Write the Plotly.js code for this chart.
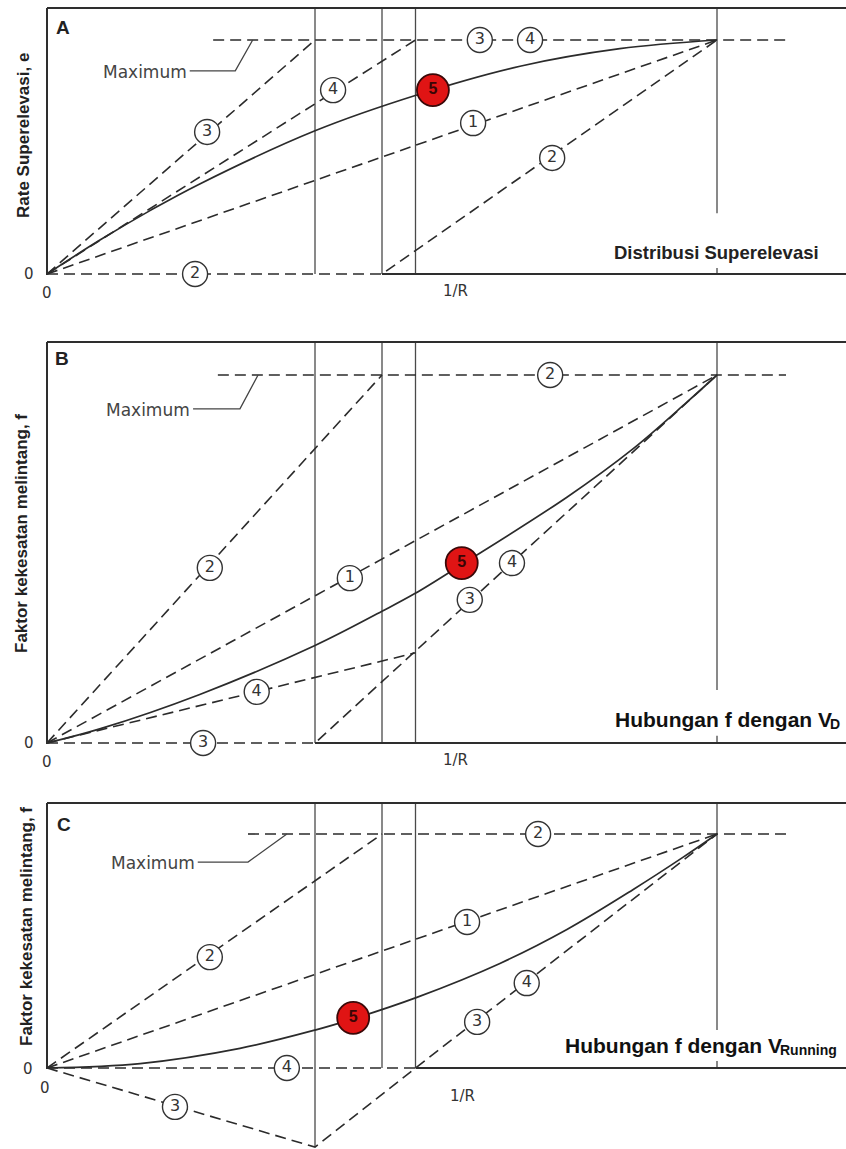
<!DOCTYPE html>
<html><head><meta charset="utf-8">
<script src="https://cdn.plot.ly/plotly-3.0.1.min.js"></script>
<style>html,body{margin:0;padding:0;background:#fff;}#chart{width:846px;height:1149px;}</style>
</head><body><div id="chart"></div>
<script>
// ---------------- DATA (x = 1/R relative to max, y = relative to maximum) ----------------
// Panel A : superelevation distribution (e)
const xA1 = [0, 1],            yA1 = [0, 1];
const xA2 = [0, 0.5, 1],       yA2 = [0, 0, 1];
const xA3 = [0, 0.4],          yA3 = [0, 1];
const xA4 = [0, 0.55],         yA4 = [0, 1];
const xA5 = [0, 0.079, 0.155, 0.228, 0.4, 0.552, 0.706, 0.855, 1];
const yA5 = [0, 0.145, 0.273, 0.385, 0.612, 0.765, 0.888, 0.963, 1];
const maxXA = [0.248, 1.103];
const leadXA = [0.213, 0.281, 0.307], leadYA = [0.868, 0.868, 1.0];
const labXA = [0.239, 0.427, 0.221, 0.646, 0.721, 0.636, 0.754];
const labYA = [0.607, 0.786, 0, 1, 1, 0.645, 0.496];
const labTA = ['3', '4', '2', '3', '4', '1', '2'];
const redXA = [0.576], redYA = [0.786];
const vertXA = [0.4, 0.5, 0.55, 1.0], vertLowA = [0, 0, 0, 0.26], stubA = [0, 0.026];

// Panel B : side friction f vs design speed V_D
const xB1 = [0, 1],            yB1 = [0, 1];
const xB2 = [0, 0.5],          yB2 = [0, 1];
const xB3 = [0, 0.4, 1],       yB3 = [0, 0, 1];
const xB4 = [0, 0.55],         yB4 = [0, 0.245];
const xB5 = [0, 0.08, 0.228, 0.4, 0.5, 0.549, 0.619, 0.776, 0.875, 0.955, 1];
const yB5 = [0, 0.039, 0.132, 0.265, 0.358, 0.406, 0.485, 0.668, 0.80, 0.926, 1];
const maxXB = [0.255, 1.103];
const leadXB = [0.218, 0.288, 0.315], leadYB = [0.908, 0.908, 1.0];
const labXB = [0.243, 0.452, 0.313, 0.233, 0.751, 0.631, 0.694];
const labYB = [0.476, 0.448, 0.139, 0, 1, 0.389, 0.489];
const labTB = ['2', '1', '4', '3', '2', '3', '4'];
const redXB = [0.619], redYB = [0.489];
const vertXB = [0.4, 0.5, 0.55, 1.0], vertLowB = [0, 0, 0, 0.144], stubB = [0, 0.02];

// Panel C : side friction f vs running speed
const xC1 = [0, 1],              yC1 = [0, 1];
const xC2 = [0, 0.5],            yC2 = [0, 1];
const xC3 = [0, 0.4, 0.55, 1],   yC3 = [0, -0.338, 0, 1];
const xC4 = [0, 0.55],           yC4 = [0, 0];
const xC5 = [0, 0.139, 0.288, 0.4, 0.457, 0.552, 0.676, 0.776, 0.875, 0.949, 1];
const yC5 = [0, 0.019, 0.084, 0.162, 0.21, 0.302, 0.447, 0.592, 0.763, 0.90, 1];
const maxXC = [0.30, 1.103];
const leadXC = [0.225, 0.30, 0.358], leadYC = [0.880, 0.880, 1.0];
const labXC = [0.243, 0.358, 0.191, 0.627, 0.716, 0.642, 0.733];
const labYC = [0.474, 0, -0.166, 0.624, 0.363, 0.197, 1];
const labTC = ['2', '4', '3', '1', '4', '3', '2'];
const redXC = [0.457], redYC = [0.214];
const vertXC = [0.4, 0.5, 0.55, 1.0], vertLowC = [-0.338, 0, 0, 0.162], stubC = [0, 0.03];

// ---------------- LAYOUT GEOMETRY ----------------
const W = 846, H = 1149;
const X0PX = 47, XUNIT = 670;
const pxX = v => v / W;
const pxY = v => 1 - v / H;
const geo = {
  A: {top: 8,   zero: 274,  unit: 234, bottom: 278},
  B: {top: 342, zero: 743,  unit: 368, bottom: 747},
  C: {top: 803, zero: 1068, unit: 234, bottom: 1149}
};
function yTop(g) { return (g.zero - g.top) / g.unit; }
function yBot(g) { return (g.zero - g.bottom) / g.unit; }

const INK = '#2b2b2b';
const traces = [];
function line(x, y, xa, ya, opt) {
  traces.push(Object.assign({type: 'scatter', mode: 'lines', x: x, y: y, xaxis: xa, yaxis: ya,
    hoverinfo: 'skip', showlegend: false}, opt));
}
function dashed(x, y, xa, ya) { line(x, y, xa, ya, {line: {color: INK, width: 1.6, dash: '11px,6px'}}); }
function verticals(xs, lows, stub, g, xa, ya) {
  const vx = [], vy = [];
  const top = yTop(g);
  xs.forEach((xv, i) => { vx.push(xv, xv, null); vy.push(lows[i], top, null); });
  vx.push(xs[xs.length - 1], xs[xs.length - 1]); vy.push(stub[0], stub[1]);
  line(vx, vy, xa, ya, {line: {color: '#4a4a4a', width: 1.3}, connectgaps: false});
}
function labels(x, y, t, xa, ya) {
  traces.push({type: 'scatter', mode: 'markers+text', x: x, y: y, text: t, xaxis: xa, yaxis: ya,
    textposition: 'middle center', cliponaxis: false, hoverinfo: 'skip', showlegend: false,
    marker: {symbol: 'circle', size: 25, color: '#fff', line: {color: '#333', width: 1.4}},
    textfont: {family: 'DejaVu Sans, sans-serif', size: 16, color: '#333'}});
}
function red(x, y, xa, ya) {
  traces.push({type: 'scatter', mode: 'markers+text', x: x, y: y, text: ['5'], xaxis: xa, yaxis: ya,
    textposition: 'middle center', cliponaxis: false, hoverinfo: 'skip', showlegend: false,
    marker: {symbol: 'circle', size: 32, color: '#e01414', line: {color: '#3a0808', width: 1.8}},
    textfont: {family: 'Liberation Sans, Arial, sans-serif', size: 16, color: '#3a0505', weight: 'bold'}});
}
function curve(x, y, xa, ya) { line(x, y, xa, ya, {line: {color: INK, width: 1.7, shape: 'spline', smoothing: 1}}); }
function leader(x, y, xa, ya) { line(x, y, xa, ya, {line: {color: '#444', width: 1.3}}); }

// Panel A
verticals(vertXA, vertLowA, stubA, geo.A, 'x', 'y');
dashed(maxXA, [1, 1], 'x', 'y');
dashed(xA1, yA1, 'x', 'y'); dashed(xA2, yA2, 'x', 'y');
dashed(xA3, yA3, 'x', 'y'); dashed(xA4, yA4, 'x', 'y');
curve(xA5, yA5, 'x', 'y');
leader(leadXA, leadYA, 'x', 'y');
labels(labXA, labYA, labTA, 'x', 'y');
red(redXA, redYA, 'x', 'y');
// Panel B
verticals(vertXB, vertLowB, stubB, geo.B, 'x2', 'y2');
dashed(maxXB, [1, 1], 'x2', 'y2');
dashed(xB1, yB1, 'x2', 'y2'); dashed(xB2, yB2, 'x2', 'y2');
dashed(xB3, yB3, 'x2', 'y2'); dashed(xB4, yB4, 'x2', 'y2');
curve(xB5, yB5, 'x2', 'y2');
leader(leadXB, leadYB, 'x2', 'y2');
labels(labXB, labYB, labTB, 'x2', 'y2');
red(redXB, redYB, 'x2', 'y2');
// Panel C
verticals(vertXC, vertLowC, stubC, geo.C, 'x3', 'y3');
dashed(maxXC, [1, 1], 'x3', 'y3');
dashed(xC1, yC1, 'x3', 'y3'); dashed(xC2, yC2, 'x3', 'y3');
dashed(xC3, yC3, 'x3', 'y3'); dashed(xC4, yC4, 'x3', 'y3');
curve(xC5, yC5, 'x3', 'y3');
leader(leadXC, leadYC, 'x3', 'y3');
labels(labXC, labYC, labTC, 'x3', 'y3');
red(redXC, redYC, 'x3', 'y3');

// ---------------- AXES ----------------
const xRange = [0, (W - X0PX) / XUNIT];
function xax(anchor) {
  return {domain: [pxX(X0PX), 1], range: xRange, anchor: anchor, showline: false, zeroline: false,
    showgrid: false, showticklabels: false, ticks: '', fixedrange: true};
}
function yax(g, anchor) {
  return {domain: [pxY(g.bottom), pxY(g.top)], range: [yBot(g), yTop(g)], anchor: anchor,
    showline: false, zeroline: false, showgrid: false, showticklabels: false, ticks: '', fixedrange: true};
}

// frame: left + top borders and the solid part of the 1/R axis
const FR = {color: '#2e2e2e', width: 2};
const shapes = [];
[[geo.A, 'x', xA2[1]], [geo.B, 'x2', xB3[1]], [geo.C, 'x3', xC3[2]]].forEach(([g, xa, xb]) => {
  shapes.push({type: 'line', xref: 'paper', yref: 'paper', x0: pxX(X0PX), x1: pxX(X0PX), y0: pxY(g.zero + 1), y1: pxY(g.top), line: FR});
  shapes.push({type: 'line', xref: 'paper', yref: 'paper', x0: pxX(X0PX), x1: 1, y0: pxY(g.top), y1: pxY(g.top), line: FR});
  shapes.push({type: 'line', xref: xa, yref: 'paper', x0: xb, x1: xRange[1], y0: pxY(g.zero), y1: pxY(g.zero), line: FR});
});

// ---------------- TEXT ----------------
const SANS = 'Liberation Sans, Arial, sans-serif';
const ROUND = 'DejaVu Sans, sans-serif';
const ann = [];
function note(x, y, text, font, extra) {
  ann.push(Object.assign({xref: 'paper', yref: 'paper', x: pxX(x), y: pxY(y), text: text, showarrow: false,
    xanchor: 'center', yanchor: 'middle', font: font}, extra || {}));
}
const letterFont = {family: SANS, size: 19, color: '#222', weight: 'bold'};
note(63, 27, 'A', letterFont);
note(62, 358, 'B', letterFont);
note(64, 824, 'C', letterFont);

const yTitleFont = {family: SANS, size: 17, color: '#222', weight: 'bold'};
note(23, 136, 'Rate Superelevasi, e', yTitleFont, {textangle: -90});
note(21, 534, 'Faktor kekesatan melintang, f', yTitleFont, {textangle: -90});
note(26, 927, 'Faktor kekesatan melintang, f', yTitleFont, {textangle: -90});

const smallFont = {family: ROUND, size: 15, color: '#333'};
note(29, 274, '0', smallFont); note(47, 293, '0', smallFont); note(455, 291, '1/R', smallFont);
note(29, 743, '0', smallFont); note(47, 762, '0', smallFont); note(455, 760, '1/R', smallFont);
note(28, 1069, '0', smallFont); note(45, 1088, '0', smallFont); note(462, 1096, '1/R', smallFont);

const maxFont = {family: ROUND, size: 17, color: '#444'};
[['x', 'y', leadXA, leadYA], ['x2', 'y2', leadXB, leadYB], ['x3', 'y3', leadXC, leadYC]].forEach(([xa, ya, lx, ly]) => {
  ann.push({xref: xa, yref: ya, x: lx[0], y: ly[0], text: 'Maximum', showarrow: false,
    xanchor: 'right', yanchor: 'middle', xshift: -1, yshift: -1, font: maxFont});
});

const boxFont = {family: SANS, size: 18.5, color: '#222', weight: 'bold'};
note(716, 253, 'Distribusi Superelevasi', boxFont);
const hubFont = {family: SANS, size: 21, color: '#111', weight: 'bold'};
const subFont = {family: SANS, size: 14, color: '#111', weight: 'bold'};
note(834, 719, 'Hubungan f dengan V', hubFont, {xanchor: 'right'});
note(828, 724, 'D', subFont, {xanchor: 'left'});
note(784, 1045, 'Hubungan f dengan V', hubFont, {xanchor: 'right'});
note(778, 1050, 'Running', subFont, {xanchor: 'left'});

const layout = {
  width: W, height: H, margin: {l: 0, r: 0, t: 0, b: 0}, paper_bgcolor: '#fff', plot_bgcolor: 'rgba(0,0,0,0)',
  showlegend: false,
  xaxis: xax('y'), yaxis: yax(geo.A, 'x'),
  xaxis2: xax('y2'), yaxis2: yax(geo.B, 'x2'),
  xaxis3: xax('y3'), yaxis3: yax(geo.C, 'x3'),
  shapes: shapes, annotations: ann
};
Plotly.newPlot('chart', traces, layout, {displayModeBar: false, staticPlot: true});
</script></body></html>
